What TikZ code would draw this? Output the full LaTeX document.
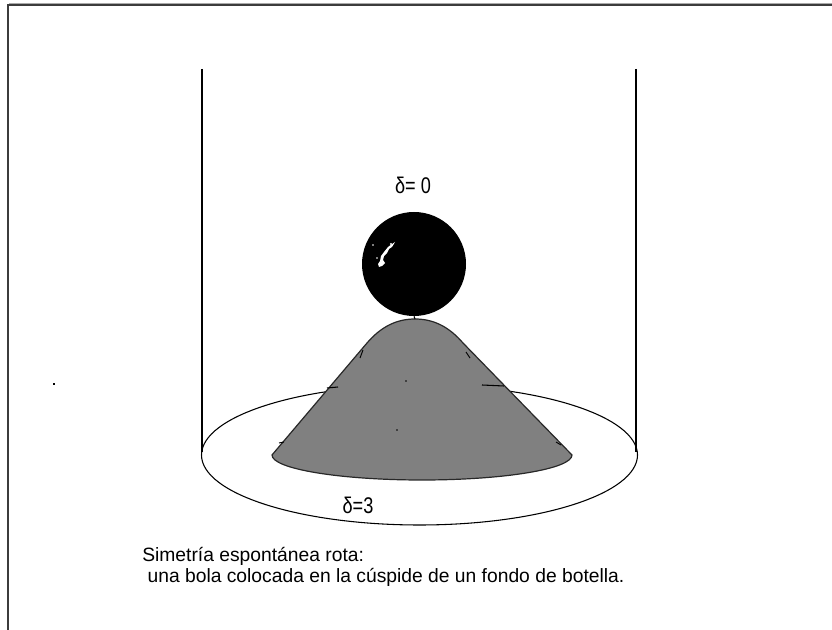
\documentclass[tikz,border=0pt]{standalone}
\usepackage{fontspec}
\setmainfont{Liberation Sans}
\definecolor{framelight}{RGB}{170,170,170}
\definecolor{framedark}{RGB}{60,60,60}
\definecolor{conegray}{RGB}{128,128,128}
\definecolor{coneedge}{RGB}{40,40,40}
\begin{document}
\begin{tikzpicture}[x=0.75pt,y=-0.75pt,
  thin line/.style={line width=0.8pt,black},
  conefill/.style={fill=conegray,draw=coneedge,line width=0.9pt},
  deltalabel/.style={font=\fontsize{17pt}{20pt}\selectfont,xscale=0.8,inner sep=0pt},
  captext/.style={font=\fontsize{14.45pt}{17pt}\selectfont,inner sep=0pt,anchor=base west}]
\useasboundingbox (0,0) rectangle (832,630);
% frame (top and left only)
\draw[line width=0.9pt,framelight] (9,3.5) -- (832,3.5);
\draw[line width=1pt,framedark] (8,630) -- (8,5) -- (832,5);
% bottle walls
\coordinate (wlt) at (202,69);
\coordinate (wlb) at (202,452);
\coordinate (wrt) at (636,69);
\coordinate (wrb) at (636,452);
\draw[thin line] (wlt) -- (wlb);
\draw[thin line] (wrt) -- (wrb);
% bottle bottom ellipse
\draw[thin line] (419.5,455) ellipse[x radius=218,y radius=70];
% cone
\coordinate (cl) at (272,455);
\coordinate (sl) at (367,343);
\coordinate (tp) at (415,319);
\coordinate (sr) at (463,343);
\coordinate (cr) at (572,455);
\draw[conefill] (cl) -- (sl) .. controls (380,328) and (395,319) .. (tp)
  .. controls (435,319) and (450,328) .. (sr) -- (cr)
  arc[start angle=0,end angle=180,x radius=150,y radius=25] -- cycle;
% small marks on the cone
\draw[line width=0.8pt] (327,388) -- (338,387);
\draw[line width=0.8pt] (482,385) -- (504,386);
\draw[line width=0.7pt] (360,358) -- (363,350);
\draw[line width=0.7pt] (466,352) -- (470,358);
\draw[line width=0.7pt] (279,443) -- (284,442);
\draw[line width=0.7pt] (556,442) -- (561,445);
\fill (406,381) circle[radius=0.8];
\fill (397,430) circle[radius=0.8];
% ball (diameter 104 px = 78 pt)
\node[circle,fill=black,minimum size=78pt,inner sep=0pt] (ball) at (414,264) {};
\draw[line width=0.8pt] (ball.south) -- (tp);
% highlight on the ball
\fill[white] (395,242) -- (392,247) -- (389,249) -- (387,253) -- (384,256) -- (383,260) -- (385,263) -- (382,266) -- (379,267) -- (378,264) -- (380,261) -- (381,256) -- (384,252) -- (388,247) -- cycle;
\fill[white] (391,244) circle[radius=1.2];
\fill[white] (373,245) circle[radius=0.8];
\fill[white] (377,258) circle[radius=0.8];
% labels
\node[deltalabel] (d0) at (413,185) {δ= 0};
\node[deltalabel] (d3) at (358,505) {δ=3};
% stray dot
\fill (53,383) rectangle (55,385);
% caption
\node[captext] (cap1) at (142,562) {Simetría espontánea rota:};
\node[captext] (cap2) at (142,583) {\ una bola colocada en la cúspide de un fondo de botella.};
\end{tikzpicture}
\end{document}
